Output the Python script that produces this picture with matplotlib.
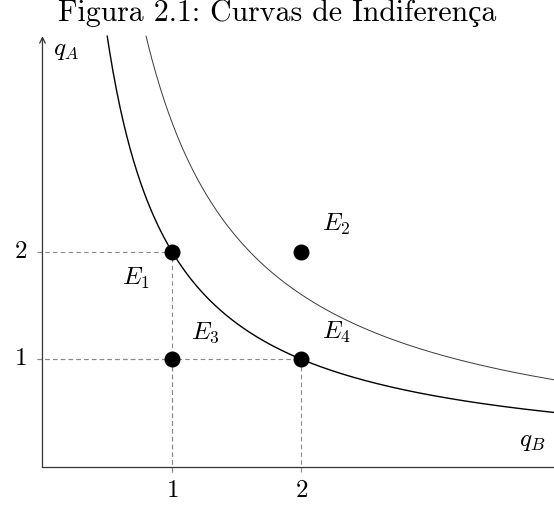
# Curvas de Indiferenca - figura 2.1
import matplotlib.pyplot as plt
import numpy as np

plt.rcParams['mathtext.fontset'] = 'cm'
plt.rcParams['font.family'] = ['cmr10', 'Liberation Serif']
plt.rcParams['axes.unicode_minus'] = False

# dados de entrada
titulo = 'Figura 2.1: Curvas de Indiferença'
utilidades = [2.0, 3.2]          # q_A * q_B = k para cada curva
cores_curvas = ['#000000', '#3a3a3a']
larguras = [1.0, 0.7]
pontos_qb = [1, 2, 1, 2]
pontos_qa = [2, 2, 1, 1]
rotulos = ['$E_1$', '$E_2$', '$E_3$', '$E_4$']
ticks_x = [1, 2]
ticks_y = [1, 2]

fig = plt.figure(figsize=(5.54, 5.05), dpi=100)
ax = fig.add_axes([0, 0, 1, 1])
ax.set_xlim(-0.328, 3.95)
ax.set_ylim(-0.353, 4.336)
ax.axis('off')

# linhas tracejadas
cinza = '#8a8a8a'
for qb, qa in zip(pontos_qb, pontos_qa):
    if (qb, qa) == (2, 2):
        continue
    ax.plot([-0.04, qb], [qa, qa], color=cinza, lw=0.8, ls=(0, (4, 3)), zorder=1)
    ax.plot([qb, qb], [-0.05, qa], color=cinza, lw=0.8, ls=(0, (4, 3)), zorder=1)

# eixos
ax.plot([0, 4.05], [0, 0], color='#333333', lw=0.9, zorder=2)
ax.annotate('', xy=(0, 4.0), xytext=(0, 0),
            arrowprops=dict(arrowstyle='->', color='#333333', lw=0.9,
                            shrinkA=0, shrinkB=0, mutation_scale=10))

# curvas
for k, cor, lw in zip(utilidades, cores_curvas, larguras):
    qb = np.linspace(k / 4.0, 4.0, 400)
    ax.plot(qb, k / qb, color=cor, lw=lw, zorder=3)

# pontos
ax.plot(pontos_qb, pontos_qa, 'o', color='black', markersize=10.5, zorder=4)

desloc = [(-0.28, -0.25), (0.27, 0.25), (0.26, 0.25), (0.27, 0.25)]
for qb, qa, r, (dx, dy) in zip(pontos_qb, pontos_qa, rotulos, desloc):
    ax.text(qb + dx, qa + dy, r, fontsize=18, ha='center', va='center')

# rotulos dos eixos
ax.text(0.18, 3.86, '$q_A$', fontsize=18, ha='center', va='center')
ax.text(3.78, 0.23, '$q_B$', fontsize=18, ha='center', va='center')

for t in ticks_x:
    ax.text(t, -0.22, '$%d$' % t, fontsize=18, ha='center', va='center')
for t in ticks_y:
    ax.text(-0.17, t, '$%d$' % t, fontsize=18, ha='center', va='center')

fig.text(0.5, 0.975, titulo, fontsize=21.5, ha='center', va='center')

plt.savefig('out.png', dpi=100)
